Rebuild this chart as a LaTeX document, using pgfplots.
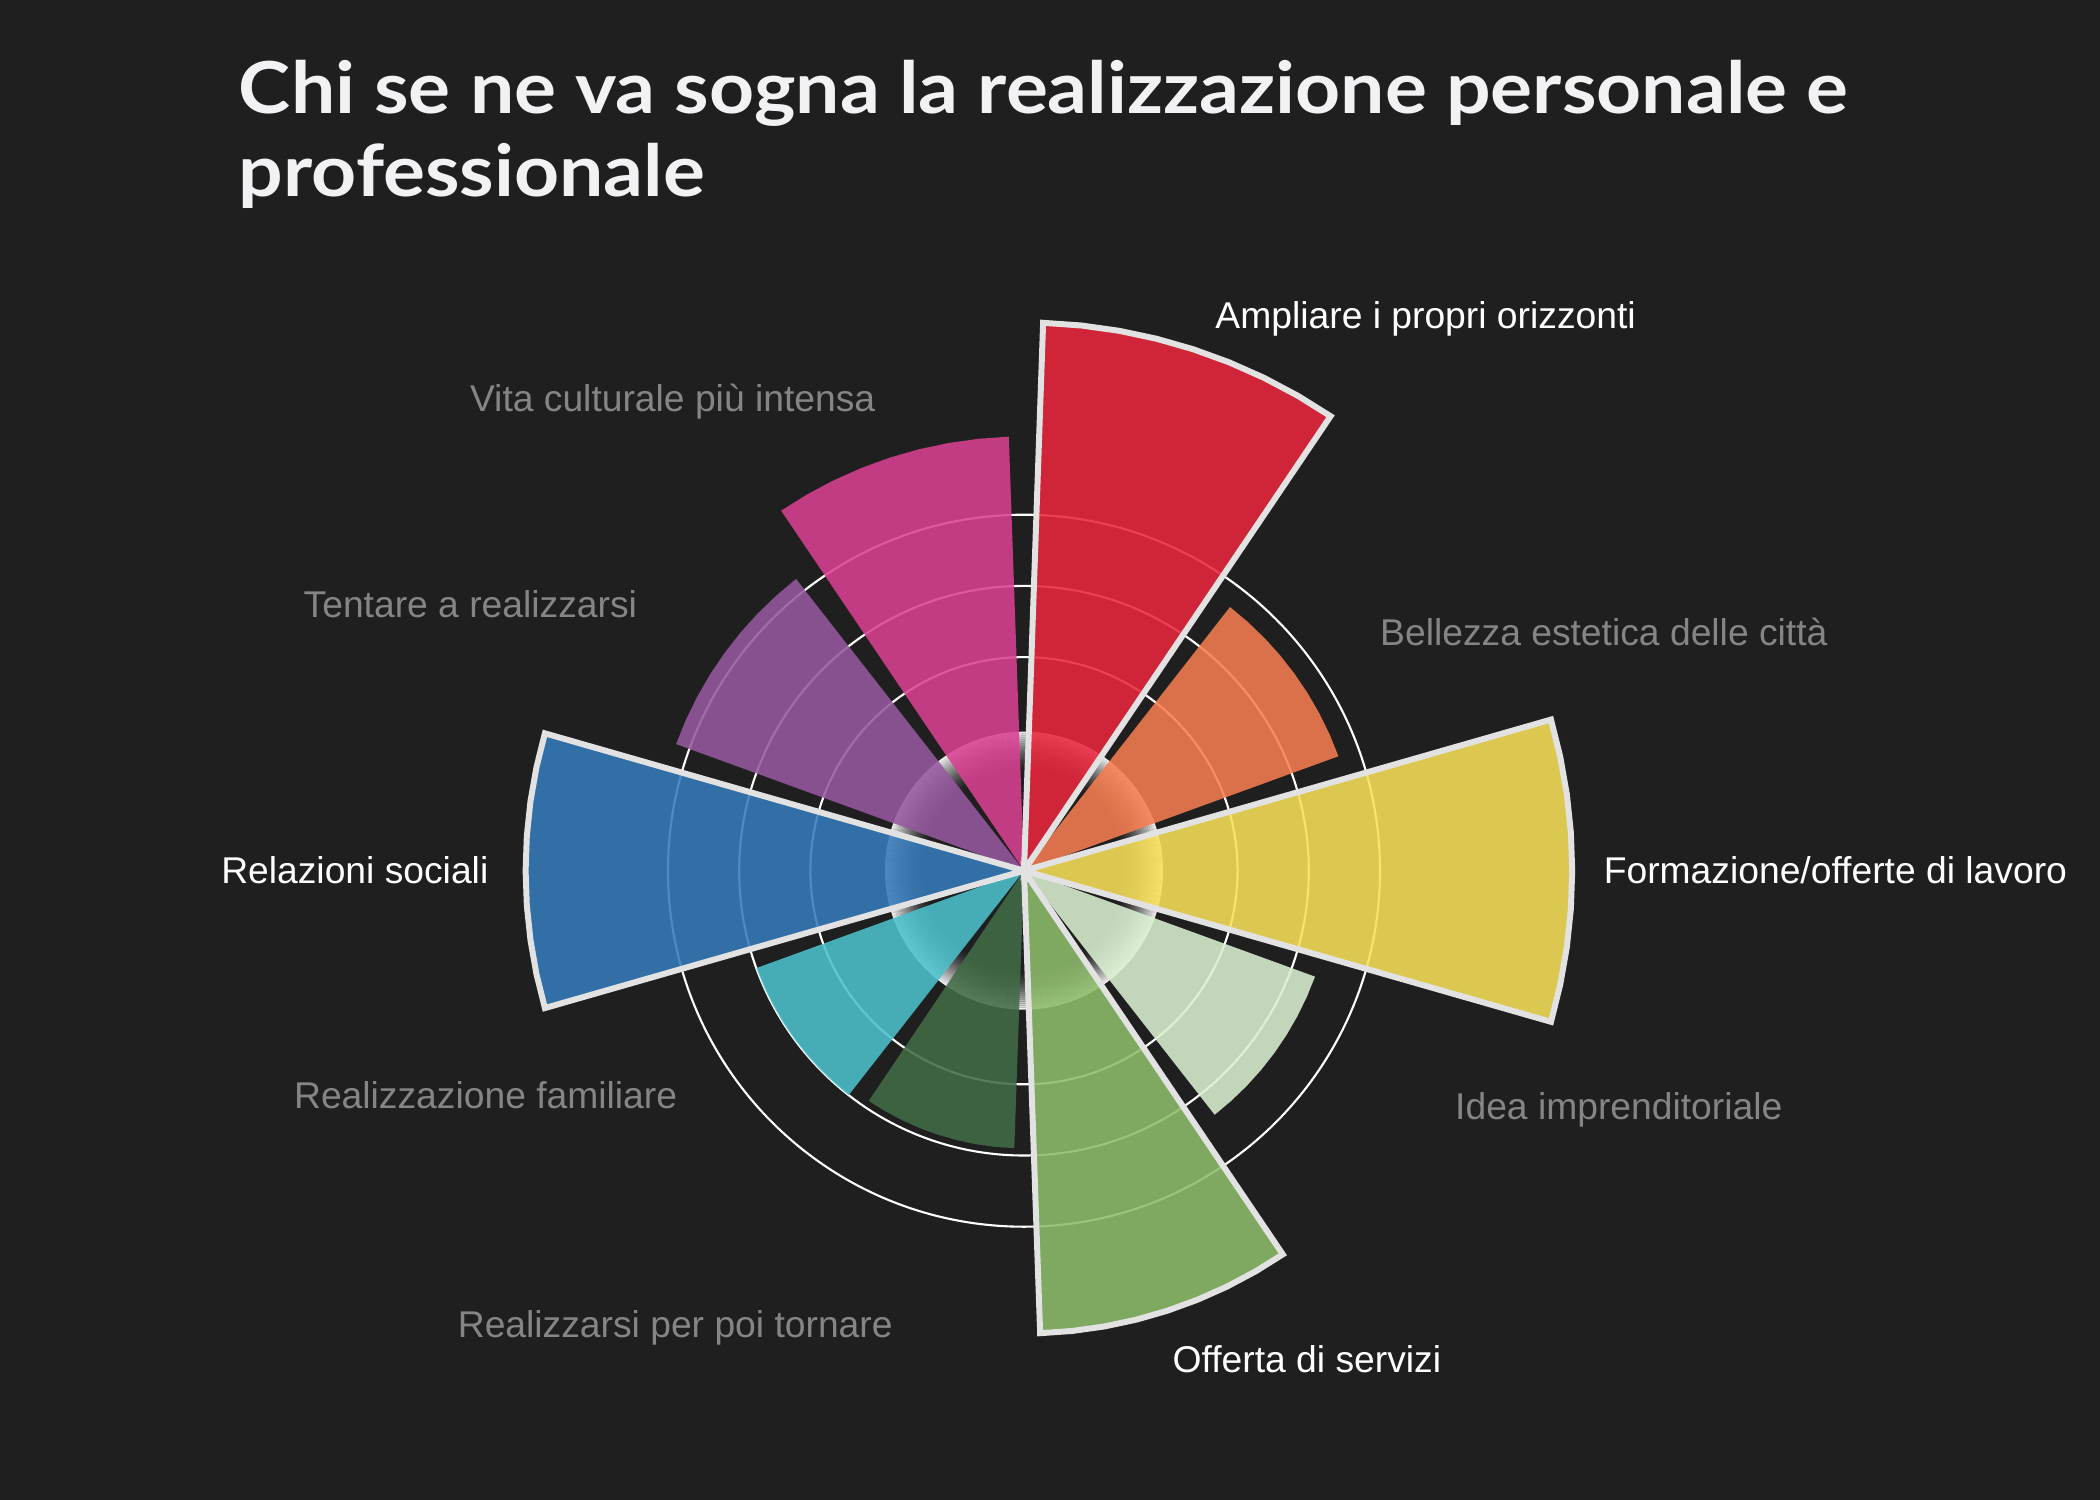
\documentclass[border=0pt]{standalone}
\usepackage{fontspec}
\setmainfont{Liberation Sans}
\newfontfamily\titlefont{Lato}[FakeStretch=1.096]
\usepackage{pgfplots}
\pgfplotsset{compat=1.18}
\definecolor{bg}{HTML}{1F1F1F}
\definecolor{cRed}{RGB}{233,38,60}
\definecolor{cOrange}{RGB}{246,125,80}
\definecolor{cYellow}{RGB}{247,224,89}
\definecolor{cPale}{RGB}{218,240,209}
\definecolor{cGreen}{RGB}{141,187,107}
\definecolor{cDark}{RGB}{65,108,71}
\definecolor{cTeal}{RGB}{76,192,204}
\definecolor{cBlue}{RGB}{54,123,186}
\definecolor{cPurple}{RGB}{149,89,158}
\definecolor{cPink}{RGB}{217,65,146}
\definecolor{cStroke}{HTML}{E2E2E2}
\definecolor{cGreyText}{HTML}{858585}
\definecolor{cTitle}{HTML}{F2F2F4}
\begin{document}
\begin{tikzpicture}
\useasboundingbox (-10.24,-6.293) rectangle (10.76,8.707);
\fill[bg] (-10.24,-6.293) rectangle (10.76,8.707);
% grid rings (30, 40, 50)
\draw[white, line width=0.6pt] (0,0) circle (2.136cm) (0,0) circle (2.848cm) (0,0) circle (3.56cm);
% inner glow (white towards the rim of the inner disc)
\foreach \i in {1,...,20} {
  \pgfmathsetmacro\ro{0.99+0.02*\i}
  \pgfmathsetmacro\ri{\ro-0.02}
  \pgfmathsetmacro\op{0.92*(\i/20)^1.6}
  \fill[white, fill opacity=\op, even odd rule] (0,0) circle (\ro cm) circle (\ri cm);
}
\begin{axis}[
  at={(0,0)}, anchor=origin,
  x=0.0712cm, y=0.0712cm,
  xmin=-80, xmax=80, ymin=-80, ymax=80,
  hide axis, clip=false,
  every axis plot/.append style={data cs=polar, mark=none, fill opacity=0.88, line join=miter},
]
% Bellezza estetica delle citta (47)
\addplot[fill=cOrange, draw=none] coordinates {(20,0) (20,47) (24,47) (28,47) (32,47) (36,47) (40,47) (44,47) (48,47) (52,47) (52,0)} -- cycle;
% Idea imprenditoriale (43.5)
\addplot[fill=cPale, draw=none] coordinates {(-52,0) (-52,43.5) (-48,43.5) (-44,43.5) (-40,43.5) (-36,43.5) (-32,43.5) (-28,43.5) (-24,43.5) (-20,43.5) (-20,0)} -- cycle;
% Realizzarsi per poi tornare (39)
\addplot[fill=cDark, draw=none] coordinates {(-124,0) (-124,39) (-120,39) (-116,39) (-112,39) (-108,39) (-104,39) (-100,39) (-96,39) (-92,39) (-92,0)} -- cycle;
% Realizzazione familiare (40)
\addplot[fill=cTeal, draw=none] coordinates {(-160,0) (-160,40) (-156,40) (-152,40) (-148,40) (-144,40) (-140,40) (-136,40) (-132,40) (-128,40) (-128,0)} -- cycle;
% Tentare a realizzarsi (52)
\addplot[fill=cPurple, draw=none] coordinates {(128,0) (128,52) (132,52) (136,52) (140,52) (144,52) (148,52) (152,52) (156,52) (160,52) (160,0)} -- cycle;
% Vita culturale piu intensa (61)
\addplot[fill=cPink, draw=none] coordinates {(92,0) (92,61) (96,61) (100,61) (104,61) (108,61) (112,61) (116,61) (120,61) (124,61) (124,0)} -- cycle;
% highlighted
% Ampliare i propri orizzonti (77)
\addplot[fill=cRed, draw=cStroke, line width=1.7pt] coordinates {(56,0) (56,77) (60,77) (64,77) (68,77) (72,77) (76,77) (80,77) (84,77) (88,77) (88,0)} -- cycle;
% Formazione/offerte di lavoro (77)
\addplot[fill=cYellow, draw=cStroke, line width=1.7pt] coordinates {(-16,0) (-16,77) (-12,77) (-8,77) (-4,77) (0,77) (4,77) (8,77) (12,77) (16,77) (16,0)} -- cycle;
% Offerta di servizi (65)
\addplot[fill=cGreen, draw=cStroke, line width=1.7pt] coordinates {(-88,0) (-88,65) (-84,65) (-80,65) (-76,65) (-72,65) (-68,65) (-64,65) (-60,65) (-56,65) (-56,0)} -- cycle;
% Relazioni sociali (70)
\addplot[fill=cBlue, draw=cStroke, line width=1.7pt] coordinates {(164,0) (164,70) (168,70) (172,70) (176,70) (180,70) (184,70) (188,70) (192,70) (196,70) (196,0)} -- cycle;
\end{axis}
% category labels
\begin{scope}[every node/.style={font=\fontsize{10.6}{12.7}\selectfont, inner sep=0pt}]
\node[anchor=mid west, text=white] at (1.908,5.519) {Ampliare i propri orizzonti};
\node[anchor=mid east, text=cGreyText] at (-1.480,4.689) {Vita culturale più intensa};
\node[anchor=mid west, text=cGreyText] at (3.555,2.346) {Bellezza estetica delle città};
\node[anchor=mid east, text=cGreyText] at (-3.863,2.627) {Tentare a realizzarsi};
\node[anchor=mid east, text=white] at (-5.349,-0.04) {Relazioni sociali};
\node[anchor=mid west, text=white] at (5.791,-0.04) {Formazione/offerte di lavoro};
\node[anchor=mid west, text=cGreyText] at (4.305,-2.394) {Idea imprenditoriale};
\node[anchor=mid east, text=cGreyText] at (-3.461,-2.287) {Realizzazione familiare};
\node[anchor=mid east, text=cGreyText] at (-1.306,-4.577) {Realizzarsi per poi tornare};
\node[anchor=mid west, text=white] at (1.480,-4.925) {Offerta di servizi};
\end{scope}
% title
\node[anchor=base west, inner sep=0pt, text=cTitle, font=\titlefont\bfseries\fontsize{20.4}{24}\selectfont] at (-7.857,7.574) {Chi se ne va sogna la realizzazione personale e};
\node[anchor=base west, inner sep=0pt, text=cTitle, font=\titlefont\bfseries\fontsize{20.4}{24}\selectfont] at (-7.857,6.740) {professionale};
\end{tikzpicture}
\end{document}
